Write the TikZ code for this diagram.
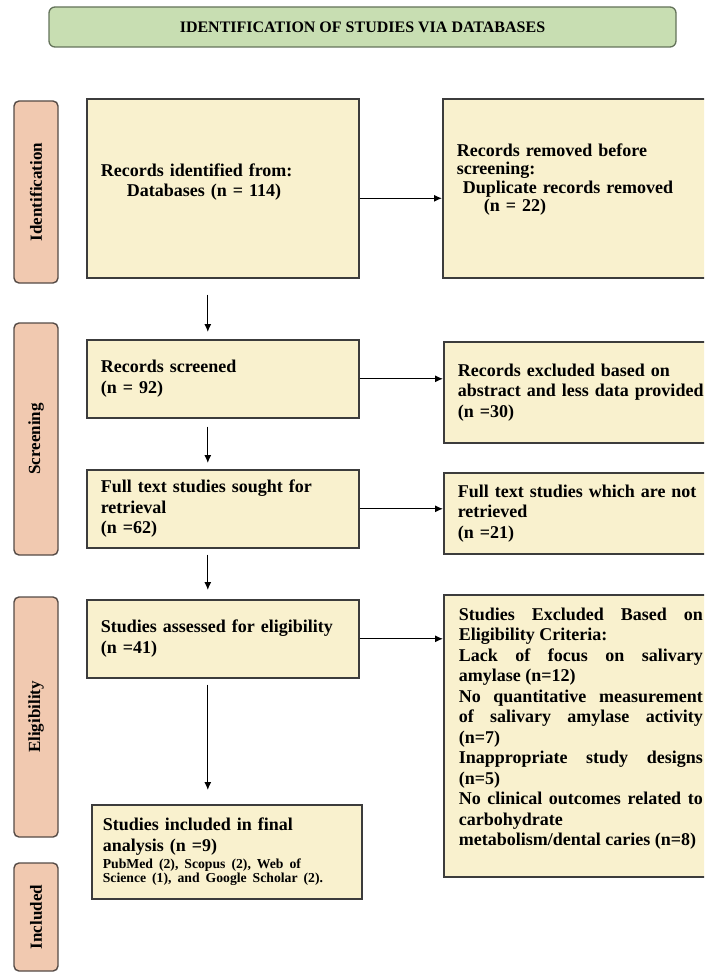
\documentclass[tikz,border=0pt]{standalone}
\usepackage{fontspec}
\setmainfont{Liberation Serif}
\usepackage{tikz}
\usetikzlibrary{arrows.meta,positioning}
\definecolor{boxfill}{RGB}{249,241,206}
\definecolor{boxline}{RGB}{60,60,60}
\definecolor{stagefill}{RGB}{241,201,176}
\definecolor{stageline}{RGB}{85,75,70}
\definecolor{headfill}{RGB}{200,222,178}
\definecolor{headline}{RGB}{100,115,90}

\begin{document}
\begin{tikzpicture}[x=1pt,y=-1pt,
    box/.style={draw=boxline,line width=1.6pt,fill=boxfill,anchor=north west,inner xsep=14pt,align=left,font=\bfseries\fontsize{18}{20.5}\selectfont},
    stage/.style={draw=stageline,line width=1.4pt,fill=stagefill,rounded corners=5pt,rotate=90,minimum height=44pt,inner sep=0pt,font=\bfseries\fontsize{17}{17}\selectfont},
    flow/.style={-{Latex[length=8pt,width=7pt]},line width=1.2pt}]
    \useasboundingbox (0,0) rectangle (704,973);
    \clip (0,0) rectangle (704,973);
    \node[draw=headline,line width=1.3pt,fill=headfill,rounded corners=6pt,minimum width=627pt,minimum height=40pt,font=\bfseries\fontsize{16}{16}\selectfont] (head) at (362.5,27) {IDENTIFICATION OF STUDIES VIA DATABASES};
    \node[stage,minimum width=182pt] (ident) at (36,192) {Identification};
    \node[stage,minimum width=232pt] (screen) at (36,439) {Screening};
    \node[stage,minimum width=240pt] (elig) at (36,717) {Eligibility};
    \node[stage,minimum width=108pt] (incl) at (36,917) {Included};
    \node[box,text width=244pt,minimum height=179pt,text depth=37pt] (idbox) at (86,98) {Records identified from:\\\hspace*{26pt}Databases (n = 114)};
    \node[box,text width=250pt,minimum height=179pt,text depth=77pt,font=\bfseries\fontsize{18}{18.5}\selectfont] (rmbox) at (442,98) {Records removed before\\screening:\\\hspace*{6pt}Duplicate records removed\\\hspace*{27pt}(n = 22)};
    \node[box,text width=244pt,minimum height=78pt] (scrbox) at (86,339) {Records screened\\(n = 92)};
    \node[box,text width=250pt,minimum height=101pt] (exbox) at (443,341) {Records excluded based on\\abstract and less data provided\\(n =30)};
    \node[box,text width=244pt,minimum height=78pt] (fullbox) at (86,469) {Full text studies sought for\\retrieval\\(n =62)};
    \node[box,text width=250pt,minimum height=81pt] (notbox) at (443,472) {Full text studies which are not\\retrieved\\(n =21)};
    \node[box,text width=244pt,minimum height=78pt] (elbox) at (86,599) {Studies assessed for eligibility\\(n =41)};
    \node[box,inner xsep=15pt,inner ysep=0pt] (critbox) at (443,594) {\parbox[c][282pt][t]{244pt}{\vspace*{13pt}Studies Excluded Based on\linebreak Eligibility Criteria:\par
        Lack of focus on salivary\linebreak amylase (n=12)\par
        No quantitative measurement\linebreak of salivary amylase activity\linebreak (n=7)\par
        Inappropriate study designs\linebreak (n=5)\par
        No clinical outcomes related to\linebreak carbohydrate\newline metabolism/dental caries (n=8)}};
    \node[box,text width=248pt,inner xsep=11pt,minimum height=94pt] (incbox) at (91,804) {Studies included in final\\analysis (n =9)\par\vspace{3pt}{\fontsize{13.7}{13.5}\selectfont PubMed (2), Scopus (2), Web of\newline Science (1), and Google Scholar (2).\par}};
    \draw[flow] ([yshift=-10pt]idbox.east) -- ([yshift=-10pt]idbox.east -| rmbox.west);
    \draw[flow] (scrbox.east) -- (scrbox.east -| exbox.west);
    \draw[flow] (fullbox.east) -- (fullbox.east -| notbox.west);
    \draw[flow] (elbox.east) -- (elbox.east -| critbox.west);
    \draw[flow,shorten <=16pt,shorten >=7pt] ([xshift=-15pt]idbox.south) -- ([xshift=-15pt]idbox.south |- scrbox.north);
    \draw[flow,shorten <=8pt,shorten >=6pt] ([xshift=-15pt]scrbox.south) -- ([xshift=-15pt]scrbox.south |- fullbox.north);
    \draw[flow,shorten <=6pt,shorten >=9pt] ([xshift=-15pt]fullbox.south) -- ([xshift=-15pt]fullbox.south |- elbox.north);
    \draw[flow,shorten <=6pt,shorten >=14pt] ([xshift=-15pt]elbox.south) -- ([xshift=-15pt]elbox.south |- incbox.north);
\end{tikzpicture}
\end{document}
